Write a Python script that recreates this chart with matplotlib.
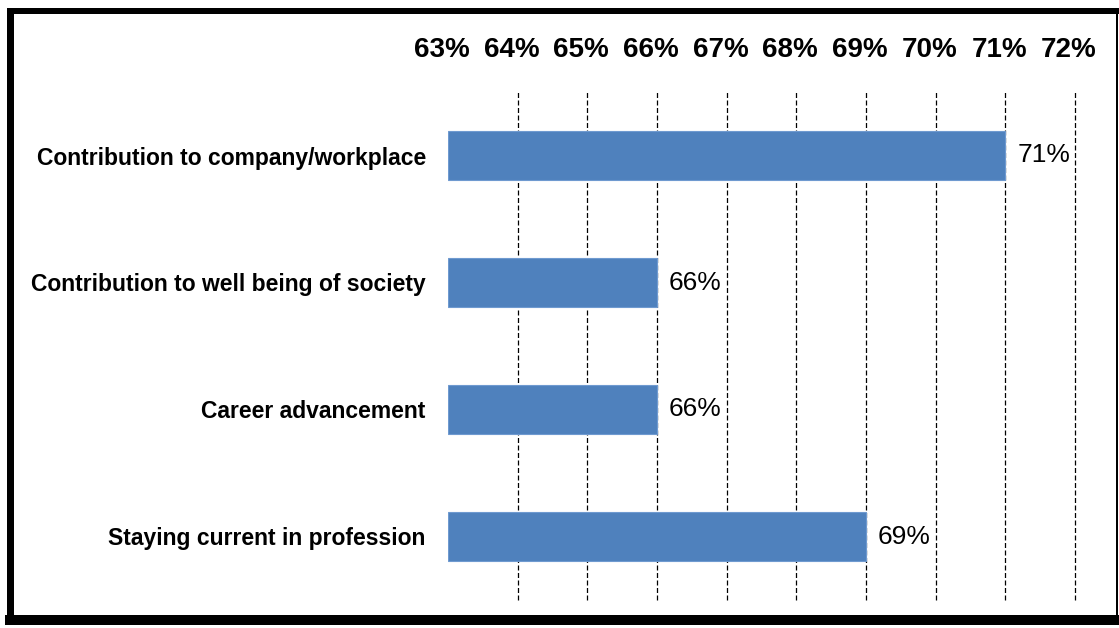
import matplotlib.pyplot as plt
import matplotlib.transforms as mtransforms
from matplotlib.lines import Line2D

plt.rcParams['font.family'] = ['Liberation Sans', 'DejaVu Sans']

# Data
categories = ['Contribution to company/workplace',
              'Contribution to well being of society',
              'Career advancement',
              'Staying current in profession']
values = [71, 66, 66, 69]
ticks = [63, 64, 65, 66, 67, 68, 69, 70, 71, 72]

fig = plt.figure(figsize=(11.19, 6.28), dpi=100)
ax = fig.add_axes([448 / 1119, 1 - 600 / 628, (1075 - 448) / 1119, (600 - 92) / 628])

y = range(len(categories))
ax.barh(y, [v - ticks[0] for v in values], left=ticks[0], height=0.385,
        color='#4F81BD', edgecolor='#6F9AD0', linewidth=0.8, zorder=3)

# value labels
for yi, v in zip(y, values):
    ax.text(v + 0.17, yi, f'{v}%', va='center', ha='left', fontsize=19, zorder=4)

ax.set_xlim(ticks[0], ticks[-1])
ax.set_ylim(len(categories) - 0.5, -0.5)
ax.set_xticks(ticks)
ax.set_xticklabels([f'{t}%' for t in ticks], fontsize=20, fontweight='bold')
ax.xaxis.tick_top()
ax.tick_params(axis='x', length=0, pad=21)
shift = mtransforms.ScaledTranslation(-6 / 100, 0, fig.dpi_scale_trans)
for lbl in ax.get_xticklabels():
    lbl.set_transform(lbl.get_transform() + shift)
ax.set_yticks(list(y))
ax.set_yticklabels(categories, fontsize=16.5, fontweight='bold')
ax.tick_params(axis='y', length=0, pad=16)

# dashed vertical gridlines (none at the first tick)
for t in ticks[1:]:
    ax.axvline(t, color='black', linestyle=(0, (4, 2)), linewidth=0.9,
               zorder=1, clip_on=False)

for s in ax.spines.values():
    s.set_visible(False)

# outer frame
frame = [((9.5, 9.5), (10.5, 619.5), 7),
         ((9.5, 1116.5), (10.5, 10.5), 6),
         ((9.5, 1116.5), (619.5, 619.5), 10),
         ((1116.5, 1116.5), (10.5, 619.5), 2)]
for xs, ys, lw in frame:
    fig.add_artist(Line2D([x / 1119 for x in xs], [1 - yy / 628 for yy in ys],
                          color='black', linewidth=lw * 0.72,
                          solid_capstyle='projecting', transform=fig.transFigure))

fig.savefig('out.png', dpi=100)
